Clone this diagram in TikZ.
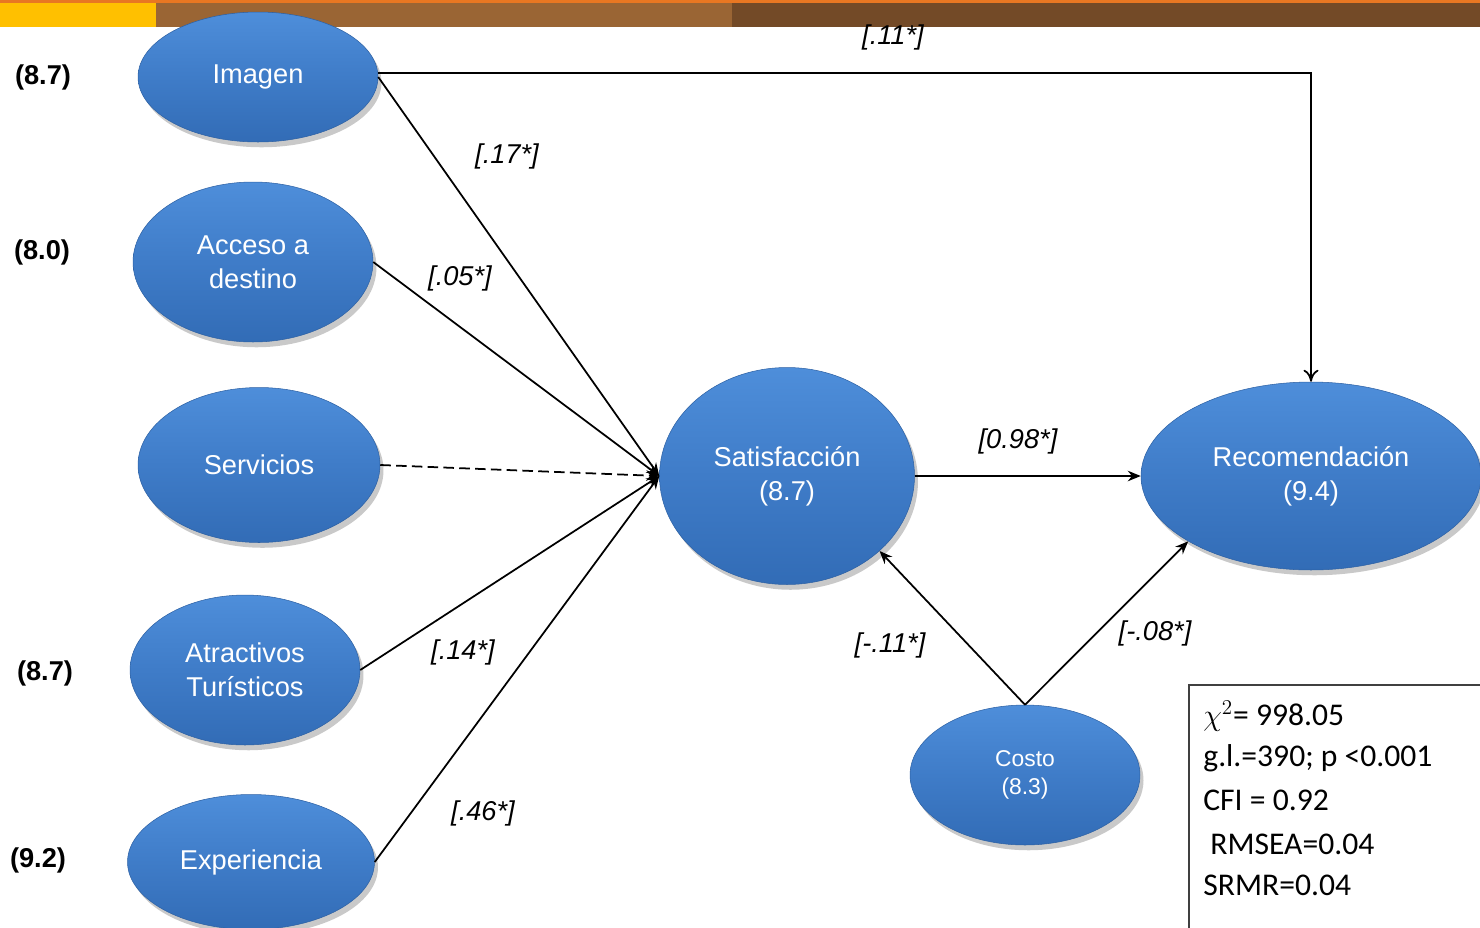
\documentclass[tikz,border=0pt]{standalone}
\usepackage{fontspec}
\setmainfont{Liberation Sans}
\newfontfamily\calib{Carlito}
\usetikzlibrary{shapes.geometric,arrows.meta,shadows}
\definecolor{barorange}{RGB}{232,119,34}
\definecolor{baryellow}{RGB}{255,192,0}
\definecolor{barbrown}{RGB}{154,101,52}
\definecolor{bardark}{RGB}{115,74,39}
\definecolor{elltop}{RGB}{78,142,218}
\definecolor{ellbot}{RGB}{50,108,182}
\definecolor{ellmid}{RGB}{63,124,200}
\tikzset{
  latent/.style={ellipse, inner sep=0pt, text=white, align=center,
    top color=elltop, bottom color=ellbot, middle color=ellmid,
    draw=ellbot!90!black, line width=0.3pt,
    drop shadow={shadow xshift=2pt, shadow yshift=-3pt, opacity=0.3, fill=black!70},
    font=\fontsize{15.5}{19.5}\selectfont},
  coef/.style={font=\fontsize{15.5}{18}\selectfont\itshape, inner sep=1pt},
  side/.style={font=\fontsize{15.5}{18}\selectfont\bfseries, inner sep=1pt},
  stat/.style={font=\calib\fontsize{18}{22}\selectfont, anchor=west, inner sep=0pt},
  path/.style={line width=1pt, -{Stealth[length=2.6mm,width=2.1mm]}},
}
\begin{document}
\begin{tikzpicture}[x=0.02cm,y=-0.02cm]
\useasboundingbox (0,0) rectangle (1480,927);
\clip (0,0) rectangle (1480,927);
% top bar
\fill[baryellow] (0,0) rectangle (156,27);
\fill[barbrown] (156,0) rectangle (732,27);
\fill[bardark] (732,0) rectangle (1480,27);
\fill[barorange] (0,0) rectangle (1480,3);
% nodes
\node[latent, minimum width=4.8cm, minimum height=2.6cm] (img) at (258,77) {Imagen};
\node[latent, minimum width=4.8cm, minimum height=3.2cm] (acc) at (253,262) {Acceso a\\destino};
\node[latent, minimum width=4.84cm, minimum height=3.1cm] (serv) at (259,465) {Servicios};
\node[latent, minimum width=4.6cm, minimum height=3.0cm] (atr) at (245,670) {Atractivos\\Turísticos};
\node[latent, minimum width=4.94cm, minimum height=2.7cm] (exp) at (251,862) {Experiencia};
\node[latent, minimum width=5.1cm, minimum height=4.34cm] (sat) at (787,476) {Satisfacción\\(8.7)};
\node[latent, minimum width=6.8cm, minimum height=3.76cm] (rec) at (1311,476) {Recomendación\\(9.4)};
\node[latent, minimum width=4.6cm, minimum height=2.8cm, font=\fontsize{13}{16}\selectfont] (cos) at (1025,775) {Costo\\(8.3)};
% side values
\node[side] (v1) at (43,77) {(8.7)};
\node[side] (v2) at (42,252) {(8.0)};
\node[side] (v4) at (45,673) {(8.7)};
\node[side] (v5) at (38,860) {(9.2)};
% connectors
\draw[line width=1pt, -{To[length=2.4mm,width=3mm]}] (img.2) -| (rec.north);
\draw[path] (img.east) -- (sat.west);
\draw[path] (acc.east) -- (sat.west);
\draw[path, dashed, dash pattern=on 6pt off 3pt] (serv.east) -- (sat.west);
\draw[path] (atr.east) -- (sat.west);
\draw[path] (exp.east) -- (sat.west);
\draw[path] (sat.east) -- (rec.west);
\draw[path] (cos.north) -- (sat.321);
\draw[path] (cos.north) -- (rec.208);
% coefficients
\node[coef] (c0) at (893,37) {[.11*]};
\node[coef] (c1) at (507,156) {[.17*]};
\node[coef] (c2) at (460,278) {[.05*]};
\node[coef] (c4) at (463,652) {[.14*]};
\node[coef] (c5) at (483,813) {[.46*]};
\node[coef] (c6) at (1018,441) {[0.98*]};
\node[coef] (c7) at (890,645) {[-.11*]};
\node[coef] (c8) at (1155,633) {[-.08*]};
% fit box
\draw[line width=1.2pt, draw=black!75] (1189,685) rectangle (1495,935);
\node[stat] (s1) at (1203,716) {$\chi^{2}$= 998.05};
\node[stat] (s2) at (1203,758) {g.l.=390; p <0.001};
\node[stat] (s3) at (1203,800) {CFI = 0.92};
\node[stat] (s4) at (1210,844) {RMSEA=0.04};
\node[stat] (s5) at (1203,885) {SRMR=0.04};
\end{tikzpicture}
\end{document}
